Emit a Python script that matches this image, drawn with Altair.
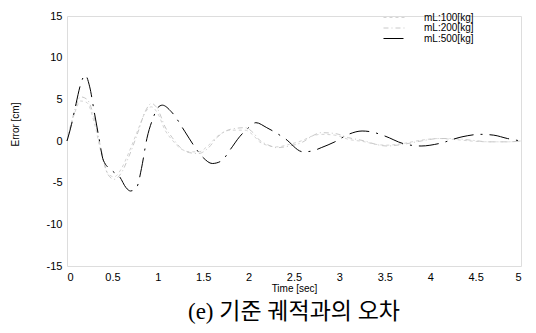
import altair as alt
import pandas as pd

# mL:500[kg] (black dash-dot)
t500 = [0, 0.05, 0.1, 0.15, 0.2, 0.25, 0.3, 0.35, 0.4, 0.5, 0.58, 0.65, 0.7, 0.77, 0.82, 0.88,
        0.95, 1.0, 1.05, 1.15, 1.3, 1.4, 1.5, 1.6, 1.7, 1.8, 1.9, 2.0, 2.08, 2.2, 2.4, 2.6,
        2.7, 2.8, 2.95, 3.1, 3.25, 3.35, 3.5, 3.7, 3.9, 4.1, 4.35, 4.55, 4.7, 4.85, 5.0]
e500 = [0, 2.0, 4.5, 6.8, 7.9, 6.5, 3.5, 0.5, -2.3, -3.6, -4.3, -5.6, -6.0, -5.5, -3.3, 0.3,
        2.8, 4.0, 4.3, 3.5, 1.1, -0.6, -2.0, -2.7, -2.4, -1.0, 0.5, 1.6, 2.2, 1.6, 0.3, -1.3,
        -1.2, -0.8, -0.1, 0.8, 1.2, 1.1, 0.6, -0.3, -0.6, -0.3, 0.5, 0.8, 0.7, 0.3, 0.0]

# mL:200[kg] (light grey)
t200 = [0, 0.08, 0.15, 0.22, 0.3, 0.38, 0.45, 0.52, 0.6, 0.68, 0.78, 0.86, 0.93, 1.0, 1.08,
        1.16, 1.25, 1.35, 1.45, 1.55, 1.66, 1.8, 1.96, 2.05, 2.12, 2.2, 2.31, 2.45, 2.6, 2.7,
        2.8, 2.95, 3.1, 3.28, 3.4, 3.52, 3.7, 3.9, 4.1, 4.25, 4.45, 4.65, 4.85, 5.0]
e200 = [0, 3.5, 5.3, 5.0, 2.8, -1.2, -4.0, -4.6, -3.8, -1.9, 1.0, 3.5, 4.5, 3.8, 1.7,
        0.4, -0.8, -1.4, -1.5, -0.9, 0.5, 1.4, 1.6, 1.0, 0.1, -0.4, -0.8, -0.6, -0.1, 0.6,
        1.0, 0.9, 0.4, 0.0, -0.4, -0.6, -0.4, 0.0, 0.3, 0.3, 0.1, -0.1, -0.1, 0.0]

# mL:100[kg] (light grey)
t100 = [0, 0.08, 0.15, 0.22, 0.3, 0.38, 0.45, 0.52, 0.6, 0.68, 0.78, 0.86, 0.93, 1.0, 1.08,
        1.16, 1.25, 1.35, 1.45, 1.55, 1.66, 1.8, 1.96, 2.05, 2.12, 2.2, 2.31, 2.45, 2.6, 2.7,
        2.8, 2.95, 3.1, 3.28, 3.4, 3.52, 3.7, 3.9, 4.1, 4.25, 4.45, 4.65, 4.85, 5.0]
e100 = [0, 3.2, 4.8, 4.6, 2.2, -1.6, -3.9, -4.3, -3.3, -1.4, 1.3, 3.4, 4.1, 3.3, 1.3,
        0.1, -0.9, -1.3, -1.3, -0.6, 0.6, 1.3, 1.3, 0.7, -0.1, -0.5, -0.7, -0.4, 0.1, 0.6,
        0.8, 0.7, 0.2, -0.1, -0.4, -0.5, -0.3, 0.1, 0.3, 0.2, 0.0, -0.1, -0.1, 0.0]

series = ["mL:100[kg]", "mL:200[kg]", "mL:500[kg]"]
colors = ["#d4d4d4", "#c8c8c8", "#000000"]
dashes = [[3, 3], [5, 3, 1, 3], [20, 7, 2, 7]]
widths = [1.0, 1.0, 2.6]

rows = []
for name, ts, es in [(series[0], t100, e100), (series[1], t200, e200), (series[2], t500, e500)]:
    for i, (t, e) in enumerate(zip(ts, es)):
        rows.append({"Time": t, "Error": e, "series": name, "order": i})
df = pd.DataFrame(rows)

label_font = "Arial, Liberation Sans, sans-serif"

chart = alt.Chart(df).mark_line(interpolate="monotone").encode(
    x=alt.X("Time:Q", scale=alt.Scale(domain=[0, 5], nice=False, zero=False),
            axis=alt.Axis(title="Time [sec]", values=[0, 0.5, 1, 1.5, 2, 2.5, 3, 3.5, 4, 4.5, 5],
                          labelExpr="'' + datum.value",
                          domain=False, ticks=False, grid=False, labelPadding=5,
                          labelFontSize=11, labelFont=label_font, labelColor="#000",
                          titleFontSize=10, titleFont=label_font, titleFontWeight="normal",
                          titleColor="#000", titleY=22, titleBaseline="middle")),
    y=alt.Y("Error:Q", scale=alt.Scale(domain=[-15, 15], nice=False),
            axis=alt.Axis(title="Error [cm]", values=[-15, -10, -5, 0, 5, 10, 15],
                          labelExpr="'' + datum.value",
                          domain=False, ticks=False, grid=False, labelPadding=5,
                          labelFontSize=11, labelFont=label_font, labelColor="#000",
                          titleFontSize=10, titleFont=label_font, titleFontWeight="normal",
                          titleColor="#000", titleX=-52, titleY=108, titleAngle=-90,
                          titleBaseline="middle", titleAlign="center")),
    color=alt.Color("series:N", scale=alt.Scale(domain=series, range=colors),
                    legend=alt.Legend(title=None, orient="none", legendX=323.5, legendY=-3.5,
                                      padding=0, symbolType="M-2.67,0H2.67", symbolSize=81,
                                      symbolStrokeWidth=2.5, labelFontSize=10,
                                      labelFont=label_font, labelColor="#000",
                                      rowPadding=0.5, labelOffset=23.5)),
    strokeDash=alt.StrokeDash("series:N", scale=alt.Scale(domain=series, range=dashes),
                              legend=None),
    strokeWidth=alt.StrokeWidth("series:N", scale=alt.Scale(domain=series, range=widths),
                                legend=None),
    order="order:Q",
).properties(
    width=454, height=250,
    title=alt.TitleParams("(e) 기준 궤적과의 오차", orient="bottom", fontSize=23,
                          font="Liberation Serif, Noto Sans CJK KR", fontWeight="normal",
                          color="#000", offset=8),
    padding={"left": 59, "top": 8, "right": 7, "bottom": 59},
    autosize="none",
).configure_view(stroke=None).configure(background="white")

chart.save("out.html", embed_options={"renderer": "svg", "actions": False})
